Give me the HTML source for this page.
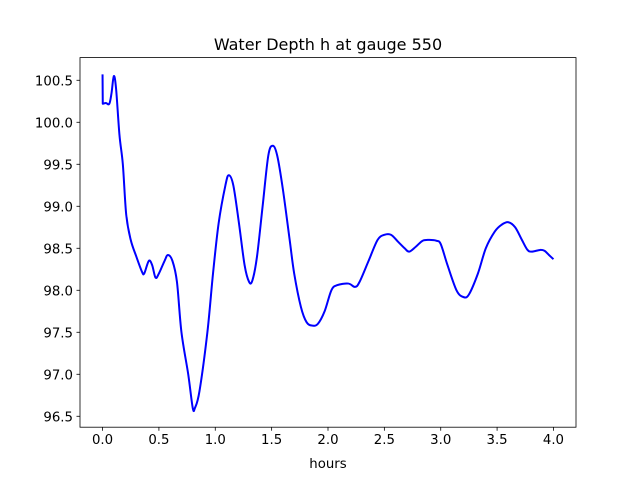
<!DOCTYPE html>
<html><head><meta charset="utf-8"><style>
html,body{margin:0;padding:0;background:#fff;}
svg{display:block;font-family:"DejaVu Sans","Liberation Sans",sans-serif;}
</style></head><body>
<svg id="chart" width="640" height="480" viewBox="0 0 640 480">
<rect width="640" height="480" fill="#fff"/>
<text x="328" y="50" text-anchor="middle" font-size="16" fill="#000">Water Depth h at gauge 550</text>
<g id="plot"></g>
<rect x="80" y="57.6" width="496" height="369.6" fill="none" stroke="#000" stroke-width="0.8"/>
<text x="328" y="468" text-anchor="middle" font-size="13.3" fill="#000">hours</text>
</svg>
<script>
const times=[0,0.002,0.03,0.06,0.08,0.1,0.12,0.15,0.18,0.21,0.25,0.3,0.35,0.37,0.41,0.44,0.47,0.5,0.55,0.58,0.62,0.66,0.7,0.76,0.8,0.82,0.86,0.93,0.98,1.03,1.09,1.12,1.16,1.21,1.26,1.3,1.33,1.37,1.42,1.47,1.51,1.55,1.6,1.66,1.7,1.76,1.81,1.86,1.91,1.97,2.03,2.08,2.18,2.24,2.28,2.36,2.44,2.5,2.56,2.62,2.68,2.72,2.78,2.84,2.9,2.96,3.0,3.06,3.14,3.2,3.25,3.33,3.4,3.48,3.54,3.6,3.66,3.72,3.77,3.81,3.88,3.92,3.96,4.0];
const depths=[100.57,100.22,100.23,100.22,100.35,100.55,100.4,99.85,99.5,98.9,98.6,98.4,98.22,98.2,98.35,98.3,98.15,98.2,98.35,98.42,98.35,98.1,97.5,97.0,96.6,96.6,96.8,97.5,98.2,98.8,99.25,99.37,99.25,98.8,98.3,98.1,98.12,98.4,99.0,99.6,99.72,99.6,99.2,98.6,98.2,97.8,97.62,97.58,97.6,97.75,98.0,98.06,98.08,98.04,98.1,98.35,98.6,98.66,98.66,98.58,98.5,98.46,98.52,98.59,98.6,98.59,98.55,98.3,98.0,97.92,97.95,98.2,98.5,98.7,98.78,98.81,98.75,98.6,98.48,98.46,98.48,98.47,98.42,98.37];
const xTicks=[0.0,0.5,1.0,1.5,2.0,2.5,3.0,3.5,4.0];
const yTicks=[96.5,97.0,97.5,98.0,98.5,99.0,99.5,100.0,100.5];
const NS="http://www.w3.org/2000/svg";
const L=80,R=576,T=57.6,B=427.2;
const xMin=-0.2,xMax=4.2,yMin=96.37,yMax=100.77;
function sx(v){return L+(v-xMin)/(xMax-xMin)*(R-L);}
function sy(v){return B-(v-yMin)/(yMax-yMin)*(B-T);}
const g=document.getElementById('plot');
function mk(tag,attrs){const e=document.createElementNS(NS,tag);for(const k in attrs)e.setAttribute(k,attrs[k]);g.appendChild(e);return e;}
xTicks.forEach(v=>{
  const x=sx(v);
  const t=mk('line',{x1:x,x2:x,y1:B,y2:B+3.5,stroke:'#000','stroke-width':0.8});
  
  
  const l=mk('text',{x:x,y:B+17,'text-anchor':'middle','font-size':13.3,fill:'#000'});
  l.textContent=v.toFixed(1);
  
  
});
yTicks.forEach(v=>{
  const y=sy(v);
  const t=mk('line',{x1:L-3.5,x2:L,y1:y,y2:y,stroke:'#000','stroke-width':0.8});
  
  
  const l=mk('text',{x:L-7,y:y+5,'text-anchor':'end','font-size':13.3,fill:'#000'});
  l.textContent=v.toFixed(1);
  
  
});
const pts=times.map((t,i)=>[sx(t),sy(depths[i])]);
let d='M'+pts[0][0]+','+pts[0][1]+' L'+pts[1][0]+','+pts[1][1];
for(let i=1;i<pts.length-1;i++){
  const p0=pts[i-1],p1=pts[i],p2=pts[i+1],p3=pts[Math.min(i+2,pts.length-1)];
  const s=(i===1)?0:1/6;
  const c1=[p1[0]+(p2[0]-p0[0])*s,p1[1]+(p2[1]-p0[1])*s];
  const c2=[p2[0]-(p3[0]-p1[0])/6,p2[1]-(p3[1]-p1[1])/6];
  d+=' C'+c1[0]+','+c1[1]+' '+c2[0]+','+c2[1]+' '+p2[0]+','+p2[1];
}
const line=mk('path',{d:d,fill:'none',stroke:'#0000ff','stroke-width':2,'stroke-linejoin':'round'});


</script>
</body></html>
